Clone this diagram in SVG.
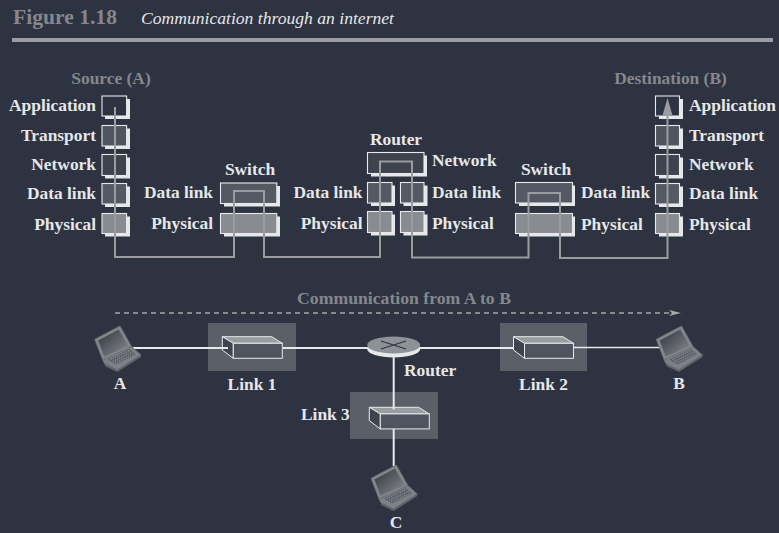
<svg xmlns="http://www.w3.org/2000/svg" width="779" height="533" viewBox="0 0 779 533">
<style>
text{font-family:"Liberation Serif","Times New Roman",serif;font-weight:bold;font-size:17.4px;fill:#e6e7e8}
.g{fill:#85878d}
.e{text-anchor:end}
.m{text-anchor:middle}
.box{stroke:#e8e9ea;stroke-width:1.1}
.sh{fill:#e6e7e8}
.w{fill:#2d3340}.t{fill:#50545f}.n{fill:#3f434e}.d{fill:#555963}.p{fill:#888b91}
.lk{fill:#5b5f68}
.wire{stroke:#e8e9ea;fill:none}
#conn{fill:none;stroke:#9a9c9f;stroke-width:2}
</style>
<defs>
<linearGradient id="scr" x1="0" y1="0" x2="1" y2="1"><stop offset="0" stop-color="#2f333b"/><stop offset="1" stop-color="#8a8d92"/></linearGradient>
<g id="laptop">
<polygon points="0,13.3 25.3,0 37,20.7 8,34" fill="#83868b" stroke="#6c6f75" stroke-width="0.8"/>
<polygon points="3.5,14.5 24,3.5 33.5,20 9.5,30.5" fill="url(#scr)"/>
<polygon points="8,34 37,20.7 46.3,29 22.6,44 10,38" fill="#7d8086" stroke="#6c6f75" stroke-width="0.8"/>
<polygon points="13,33.5 35,23 41,28.5 21,38.5" fill="#5e6169"/>
<path d="M16,33.5 L36,24 M18,35.5 L38,26 M20,37 L40,28" stroke="#a0a3a8" stroke-width="0.9" stroke-dasharray="1.2 1.2" fill="none"/>
<polygon points="10,38 22.6,44 46.3,29 46.3,31 22.6,46 10,40" fill="#62656c"/>
</g>
<g id="switch">
<polygon points="0,0 49.4,0 60,6.6 11,6.6" fill="#9a9c9f" stroke="#e8e9ea" stroke-width="1"/>
<polygon points="0,0 11,6.6 11,21.6 0,13.3" fill="#3f434e" stroke="#e8e9ea" stroke-width="1"/>
<rect x="11" y="6.6" width="49" height="15" fill="#50545f" stroke="#e8e9ea" stroke-width="1"/>
</g>
</defs>
<rect width="779" height="533" fill="#2d3340"/>
<text x="13" y="24" class="g" style="font-size:21.6px">Figure 1.18</text>
<text x="141" y="24" style="font-size:17.6px;font-style:italic;font-weight:normal">Communication through an internet</text>
<rect x="12" y="38" width="761" height="4" fill="#9a9c9f"/>

<g id="source">
<text x="111" y="83.5" class="g m">Source (A)</text>
<rect class="sh" x="105" y="99" width="25" height="20"/><rect class="box w" x="102" y="96" width="24.6" height="20"/>
<rect class="sh" x="105" y="128.5" width="25" height="20.5"/><rect class="box t" x="102" y="125.5" width="24.6" height="20.5"/>
<rect class="sh" x="105" y="157.5" width="25" height="21"/><rect class="box n" x="102" y="154.5" width="24.6" height="21"/>
<rect class="sh" x="105" y="186.5" width="25" height="20.5"/><rect class="box d" x="102" y="183.5" width="24.6" height="20.5"/>
<rect class="sh" x="105" y="216.5" width="25" height="20"/><rect class="box p" x="102" y="213.5" width="24.6" height="20"/>
<text x="96" y="111" class="e">Application</text>
<text x="96" y="141" class="e">Transport</text>
<text x="96" y="170" class="e">Network</text>
<text x="96" y="199" class="e">Data link</text>
<text x="96" y="229.5" class="e">Physical</text>
</g>

<g id="switch1">
<text x="250" y="175" class="m">Switch</text>
<rect class="sh" x="224" y="186" width="56" height="20.5"/><rect class="box d" x="220.5" y="183" width="56.3" height="20.5"/>
<rect class="sh" x="224" y="216.5" width="56" height="20"/><rect class="box p" x="220.5" y="213.5" width="56.3" height="20"/>
<text x="213" y="198" class="e">Data link</text>
<text x="213" y="228.5" class="e">Physical</text>
</g>

<g id="router">
<text x="396" y="145" class="m">Router</text>
<rect class="sh" x="371" y="155.5" width="56" height="21"/><rect class="box n" x="367.5" y="152.5" width="56.5" height="21"/>
<rect class="sh" x="371" y="185.5" width="24" height="20.5"/><rect class="box d" x="367.5" y="182.5" width="24.5" height="20.5"/>
<rect class="sh" x="371" y="214.5" width="24" height="21"/><rect class="box p" x="367.5" y="211.5" width="24.5" height="21"/>
<rect class="sh" x="403.5" y="185.5" width="24" height="20.5"/><rect class="box d" x="400.5" y="182.5" width="23.5" height="20.5"/>
<rect class="sh" x="403.5" y="214.5" width="24" height="21"/><rect class="box p" x="400.5" y="211.5" width="23.5" height="21"/>
<text x="432" y="166">Network</text>
<text x="362.5" y="198" class="e">Data link</text>
<text x="362.5" y="228.5" class="e">Physical</text>
<text x="432" y="198">Data link</text>
<text x="432" y="228.5">Physical</text>
</g>

<g id="switch2">
<text x="546" y="175" class="m">Switch</text>
<rect class="sh" x="519" y="185.5" width="56" height="20.5"/><rect class="box d" x="515.5" y="182.5" width="57" height="20.5"/>
<rect class="sh" x="519" y="216.5" width="56" height="20"/><rect class="box p" x="515.5" y="213.5" width="57" height="20"/>
<text x="581" y="198">Data link</text>
<text x="581" y="230">Physical</text>
</g>

<g id="dest">
<text x="670.5" y="83.5" class="g m">Destination (B)</text>
<rect class="sh" x="659" y="99" width="24" height="20"/><rect class="box w" x="655.5" y="96" width="24" height="20"/>
<rect class="sh" x="659" y="128.5" width="24" height="20.5"/><rect class="box t" x="655.5" y="125.5" width="24" height="20.5"/>
<rect class="sh" x="659" y="157.5" width="24" height="21"/><rect class="box n" x="655.5" y="154.5" width="24" height="21"/>
<rect class="sh" x="659" y="186.5" width="24" height="20.5"/><rect class="box d" x="655.5" y="183.5" width="24" height="20.5"/>
<rect class="sh" x="659" y="216.5" width="24" height="20"/><rect class="box p" x="655.5" y="213.5" width="24" height="20"/>
<text x="689" y="111">Application</text>
<text x="689" y="141">Transport</text>
<text x="689" y="170">Network</text>
<text x="689" y="199">Data link</text>
<text x="689" y="229.5">Physical</text>
</g>

<g id="conn">
<path d="M115,107V257H234V191H264V257H380V161.5H412V257.5H528.5V193H560V258H667.5V112"/>
<polygon points="667.5,98 672.5,115.5 662.5,115.5" fill="#9a9c9f" stroke="none"/>
</g>

<g id="comm">
<text x="404" y="303.5" class="g m" style="font-size:17.7px">Communication from A to B</text>
<path d="M115,313H672" stroke="#a6a8ab" stroke-width="1.5" stroke-dasharray="5 4" fill="none"/>
<polygon points="669,310 681,313 669,316 672,313" fill="#a6a8ab"/>
</g>

<g id="links">
<rect class="lk" x="208" y="323" width="88" height="48"/>
<rect class="lk" x="500" y="323" width="87" height="48"/>
<rect class="lk" x="350" y="392" width="88" height="47"/>
<path class="wire" stroke-width="2" d="M133,348H228M283,348H513"/>
<path class="wire" stroke-width="1.4" d="M573,347.5H660"/>
<path class="wire" stroke-width="2" d="M393.7,352V410M393.7,424V466"/>
</g>

<g id="laptopA"><use href="#laptop" x="94.7" y="326"/><text x="120" y="388.5" class="m">A</text></g>
<g id="laptopB"><use href="#laptop" x="656.2" y="326"/><text x="679" y="389" class="m">B</text></g>
<g id="laptopC"><use href="#laptop" x="371" y="465"/><text x="396" y="528" class="m">C</text></g>

<g id="link1"><use href="#switch" x="222.3" y="336.7"/><path class="wire" stroke-width="2" d="M222,348H228"/><text x="252" y="389.5" class="m">Link 1</text></g>
<g id="link2"><use href="#switch" x="513.5" y="336.7"/><text x="543.5" y="389.5" class="m">Link 2</text></g>
<g id="link3"><use href="#switch" x="369.3" y="407.3"/><path class="wire" stroke-width="2" d="M393.7,407V409.5"/><text x="301" y="419.5">Link 3</text></g>

<g id="routerIcon">
<ellipse cx="393.7" cy="349" rx="26.5" ry="8.5" fill="#e6e7e8"/>
<ellipse cx="393.7" cy="345" rx="26.5" ry="8.5" fill="#8e9197"/>
<path d="M381,341L406,349M406,341L381,349" stroke="#2d3340" stroke-width="1.3"/>
<text x="404" y="375.5">Router</text>
</g>
</svg>
